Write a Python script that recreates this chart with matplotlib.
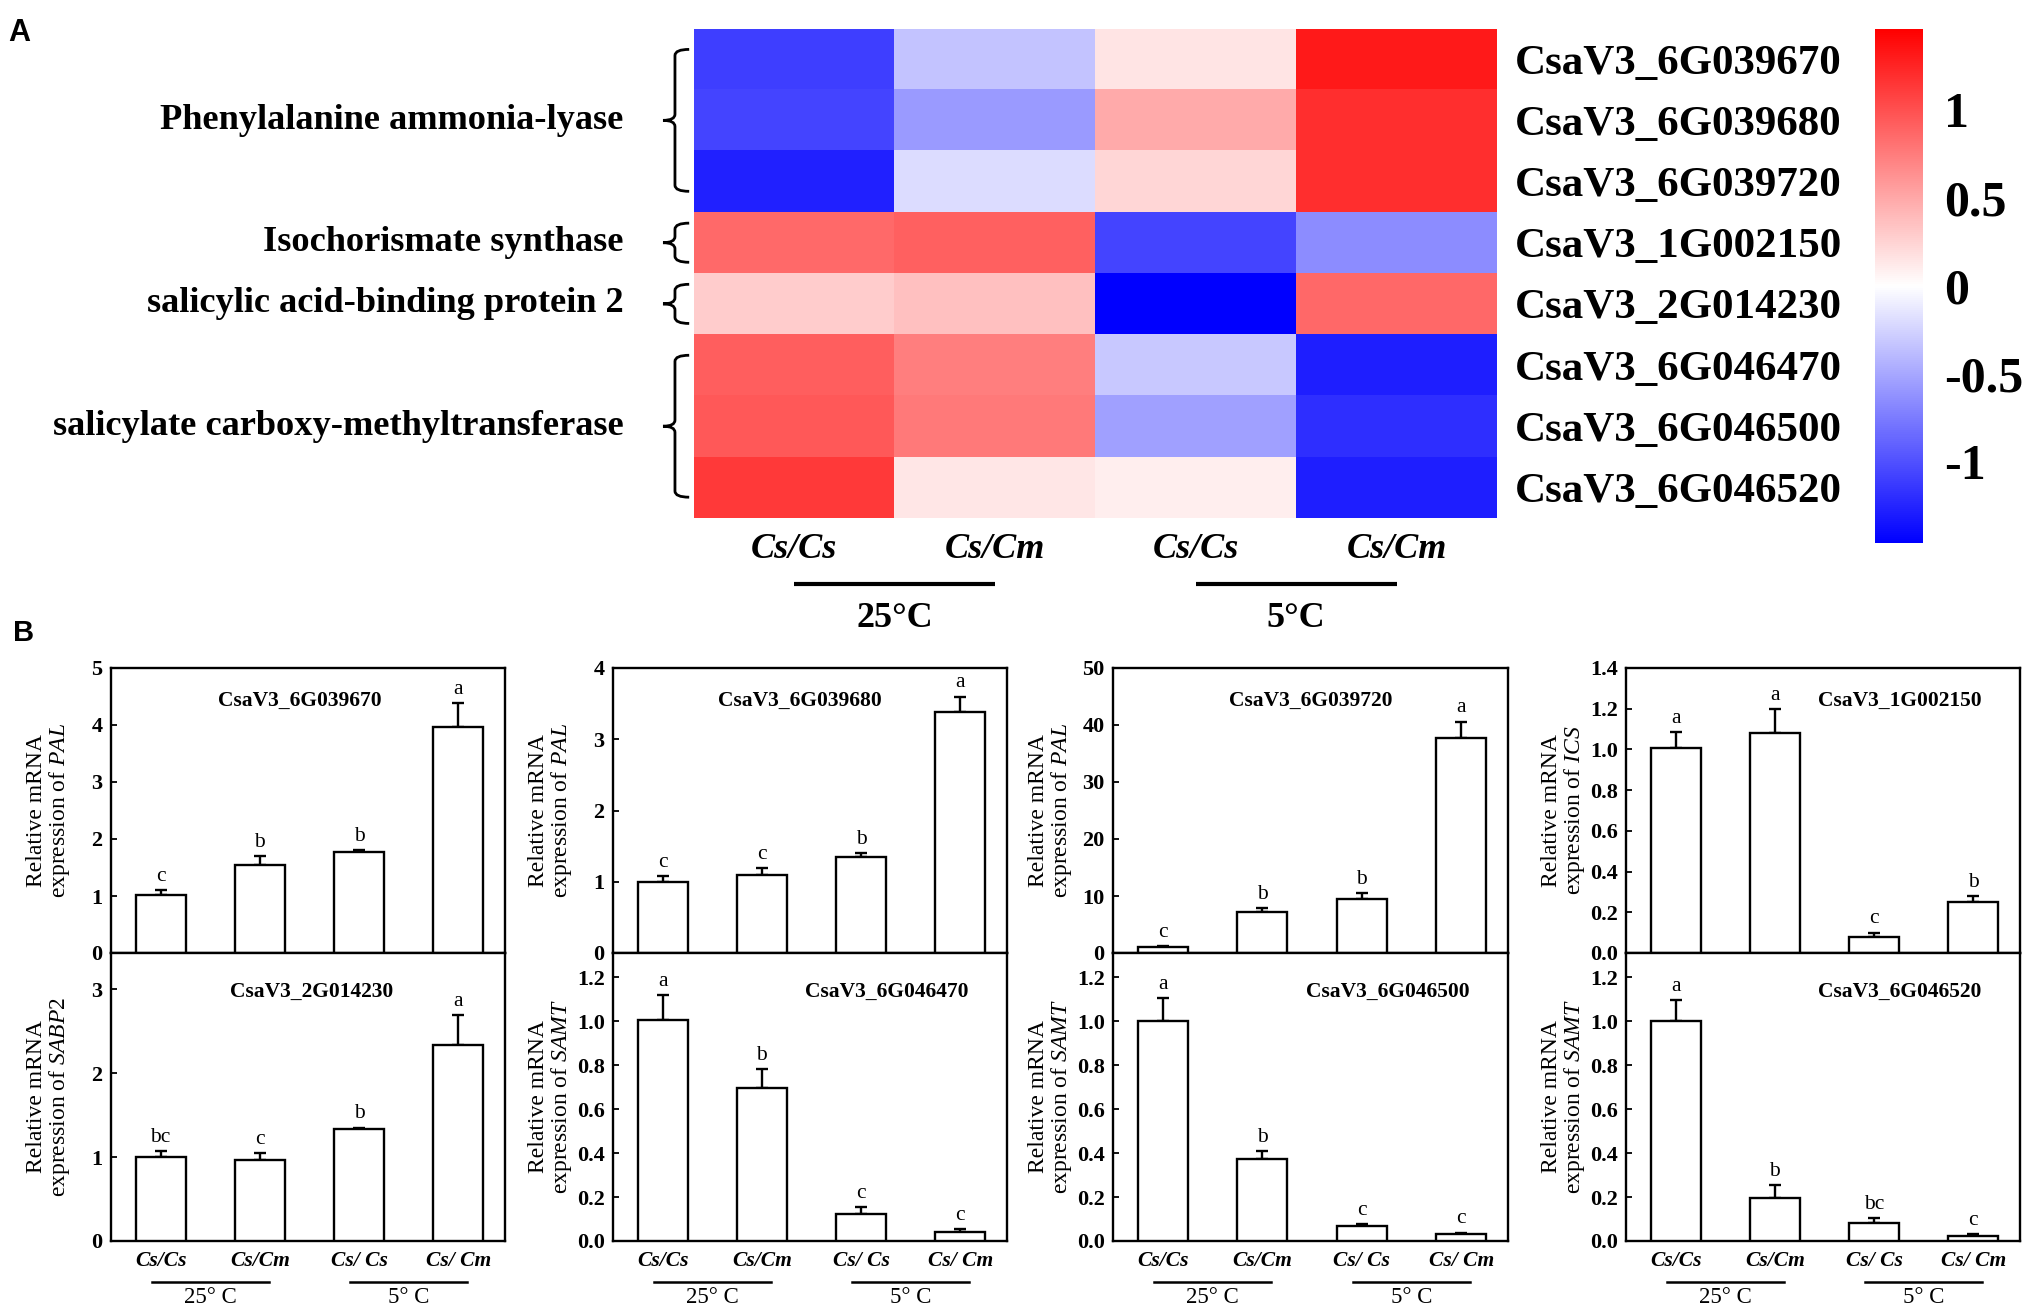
import numpy as np
import matplotlib
matplotlib.use("Agg")
import matplotlib.pyplot as plt
from matplotlib.path import Path
from matplotlib.patches import PathPatch
import matplotlib.transforms as mtransforms

plt.rcParams['font.family'] = ['Liberation Serif', 'DejaVu Serif']
plt.rcParams['mathtext.fontset'] = 'custom'
plt.rcParams['mathtext.rm'] = 'Liberation Serif'
plt.rcParams['mathtext.it'] = 'Liberation Serif:italic'
plt.rcParams['mathtext.bf'] = 'Liberation Serif:bold'

# ---------------- data ----------------
hm_genes = ["CsaV3_6G039670", "CsaV3_6G039680", "CsaV3_6G039720", "CsaV3_1G002150",
            "CsaV3_2G014230", "CsaV3_6G046470", "CsaV3_6G046500", "CsaV3_6G046520"]
hm_conditions = ["Cs/Cs", "Cs/Cm", "Cs/Cs", "Cs/Cm"]
hm_temps = ["25°C", "5°C"]
hm_values = [
    [-1.10, -0.34, 0.15, 1.31],
    [-1.07, -0.58, 0.49, 1.19],
    [-1.27, -0.20, 0.23, 1.19],
    [0.85, 0.91, -1.07, -0.66],
    [0.29, 0.36, -1.46, 0.86],
    [0.92, 0.73, -0.31, -1.28],
    [0.95, 0.76, -0.54, -1.19],
    [1.12, 0.14, 0.10, -1.28],
]
hm_groups = ["Phenylalanine ammonia-lyase", "Isochorismate synthase",
             "salicylic acid-binding protein 2", "salicylate carboxy-methyltransferase"]
hm_group_rows = [(0, 2), (3, 3), (4, 4), (5, 7)]
cbar_ticks = [1, 0.5, 0, -0.5, -1]
cbar_ticklabels = ["1", "0.5", "0", "-0.5", "-1"]

bar_categories = ["Cs/Cs", "Cs/Cm", "Cs/ Cs", "Cs/ Cm"]
bar_temps = ["25° C", "5° C"]
panel_genes = ["CsaV3_6G039670", "CsaV3_6G039680", "CsaV3_6G039720", "CsaV3_1G002150",
               "CsaV3_2G014230", "CsaV3_6G046470", "CsaV3_6G046500", "CsaV3_6G046520"]
panel_targets = ["PAL", "PAL", "PAL", "ICS", "SABP2", "SAMT", "SAMT", "SAMT"]
means_1 = [1.01, 1.54, 1.78, 3.97]
se_1 = [0.09, 0.16, 0.03, 0.41]
letters_1 = ["c", "b", "b", "a"]
means_2 = [1.00, 1.09, 1.35, 3.38]
se_2 = [0.075, 0.10, 0.05, 0.22]
letters_2 = ["c", "c", "b", "a"]
means_3 = [1.0, 7.28, 9.5, 37.7]
se_3 = [0.15, 0.6, 0.95, 2.9]
letters_3 = ["c", "b", "b", "a"]
means_4 = [1.005, 1.08, 0.079, 0.25]
se_4 = [0.079, 0.12, 0.021, 0.03]
letters_4 = ["a", "a", "c", "b"]
means_5 = [1.0, 0.96, 1.33, 2.34]
se_5 = [0.07, 0.09, 0.02, 0.35]
letters_5 = ["bc", "c", "b", "a"]
means_6 = [1.003, 0.695, 0.123, 0.04]
se_6 = [0.114, 0.088, 0.03, 0.016]
letters_6 = ["a", "b", "c", "c"]
means_7 = [1.0, 0.372, 0.068, 0.03]
se_7 = [0.106, 0.038, 0.008, 0.008]
letters_7 = ["a", "b", "c", "c"]
means_8 = [1.0, 0.197, 0.083, 0.023]
se_8 = [0.097, 0.059, 0.02, 0.009]
letters_8 = ["a", "b", "bc", "c"]
ylims = [5, 4, 50, 1.4, 3.43, 1.31, 1.31, 1.31]
ytick_steps = [1, 1, 10, 0.2, 1, 0.2, 0.2, 0.2]
ytick_max = [5, 4, 50, 1.4, 3, 1.2, 1.2, 1.2]
ytick_fmt = ["{:.0f}", "{:.0f}", "{:.0f}", "{:.1f}", "{:.0f}", "{:.1f}", "{:.1f}", "{:.1f}"]

all_means = [means_1, means_2, means_3, means_4, means_5, means_6, means_7, means_8]
all_se = [se_1, se_2, se_3, se_4, se_5, se_6, se_7, se_8]
all_letters = [letters_1, letters_2, letters_3, letters_4, letters_5, letters_6, letters_7, letters_8]

# ---------------- figure ----------------
W, H = 2029, 1312
fig = plt.figure(figsize=(W / 100, H / 100), dpi=100)


def add_ax(l, t, r, b):
    return fig.add_axes([l / W, 1 - b / H, (r - l) / W, (b - t) / H])


# ---------- Panel A: heatmap ----------
vlim = 1.46
axh = add_ax(694, 28.6, 1497, 518)
data = np.array(hm_values)
im = axh.imshow(data, cmap="bwr", vmin=-vlim, vmax=vlim, aspect="auto",
                interpolation="nearest")
axh.set_xticks([])
axh.yaxis.tick_right()
axh.set_yticks(range(len(hm_genes)))
axh.set_yticklabels(hm_genes, fontsize=31, fontweight="bold")
axh.tick_params(axis="y", length=0, pad=13)
for s in axh.spines.values():
    s.set_visible(False)

blend = mtransforms.blended_transform_factory(axh.transData, axh.transAxes)
for j, cond in enumerate(hm_conditions):
    axh.text(j, -0.065, cond, transform=blend, ha="center", va="center",
             fontsize=26, fontweight="bold", fontstyle="italic")
for g, temp in enumerate(hm_temps):
    x0, x1 = 2 * g, 2 * g + 1
    axh.plot([x0, x1], [-0.135, -0.135], transform=blend, color="black",
             lw=3, clip_on=False, solid_capstyle="butt")
    axh.text((x0 + x1) / 2, -0.205, temp, transform=blend, ha="center", va="center",
             fontsize=26, fontweight="bold")

# braces and group labels
blend_y = mtransforms.blended_transform_factory(axh.transAxes, axh.transData)
xl, xr, xp = -0.0237, -0.006, -0.0386
for name, (r0, r1) in zip(hm_groups, hm_group_rows):
    n = r1 - r0 + 1
    ym = (r0 + r1) / 2
    half = 0.42 * n - 0.1
    y0, y1 = ym - half, ym + half
    c = 0.1
    verts = [(xr, y0), (xl, y0), (xl, y0 + c),
             (xl, ym - c),
             (xl, ym), (xp, ym),
             (xl, ym), (xl, ym + c),
             (xl, y1 - c),
             (xl, y1), (xr, y1)]
    codes = [Path.MOVETO, Path.CURVE3, Path.CURVE3, Path.LINETO,
             Path.CURVE3, Path.CURVE3, Path.CURVE3, Path.CURVE3,
             Path.LINETO, Path.CURVE3, Path.CURVE3]
    patch = PathPatch(Path(verts, codes), transform=blend_y, fill=False,
                      lw=2, edgecolor="black", clip_on=False)
    axh.add_patch(patch)
    axh.text(-0.088, ym, name, transform=blend_y, ha="right", va="center",
             fontsize=26.2, fontweight="bold")

# colorbar
cax = add_ax(1875, 28.6, 1923, 543)
cb = fig.colorbar(im, cax=cax)
cb.set_ticks(cbar_ticks)
cb.set_ticklabels(cbar_ticklabels)
cb.outline.set_visible(False)
cax.tick_params(length=0, pad=15)
for lab in cax.get_yticklabels():
    lab.set_fontsize(36)
    lab.set_fontweight("bold")

fig.text(8 / W, 1 - 33 / H, "A", ha="left", va="center", fontsize=22,
         fontweight="bold", family="Liberation Sans")
fig.text(13 / W, 1 - 633 / H, "B", ha="left", va="center", fontsize=21,
         fontweight="bold", family="Liberation Sans")

# ---------- Panel B: bar charts ----------
cols_x = [(111, 505), (613, 1007), (1113, 1508), (1626, 2020)]
rows_y = [(668, 953), (953, 1241)]
title_pos = [(0.48, 0.884), (0.475, 0.884), (0.5, 0.884), (0.695, 0.884),
             (0.51, 0.865), (0.695, 0.865), (0.695, 0.865), (0.695, 0.865)]

x = np.arange(len(bar_categories))
bw = 0.505
for k in range(8):
    r, cidx = divmod(k, 4)
    l, rr = cols_x[cidx]
    t, b = rows_y[r]
    ax = add_ax(l, t, rr, b)
    m = np.array(all_means[k])
    e = np.array(all_se[k])
    ax.bar(x, m, width=bw, color="white", edgecolor="black", linewidth=1.7, zorder=3)
    ax.errorbar(x, m, yerr=[np.zeros_like(e), e], fmt="none", ecolor="black",
                elinewidth=1.7, capsize=4.5, capthick=1.7, zorder=2)
    for xi, mi, ei, let in zip(x, m, e, all_letters[k]):
        ax.annotate(let, (xi, mi + ei), xytext=(0, 3), textcoords="offset points",
                    ha="center", va="bottom", fontsize=15.5)
    ax.set_xlim(-0.5, 3.47)
    ax.set_ylim(0, ylims[k])
    yt = np.arange(0, ytick_max[k] + ytick_steps[k] / 2, ytick_steps[k])
    ax.set_yticks(yt)
    ax.set_yticklabels([ytick_fmt[k].format(v) for v in yt], fontsize=16,
                       fontweight="bold")
    ax.tick_params(axis="y", direction="in", length=4, width=1.3, pad=6)
    for s in ax.spines.values():
        s.set_linewidth(1.7)
    ax.text(*title_pos[k], panel_genes[k], transform=ax.transAxes, ha="center",
            va="center", fontsize=15.5, fontweight="bold")
    ax.set_ylabel("Relative mRNA\nexpression of $\\mathit{" + panel_targets[k] + "}$",
                  fontsize=17, linespacing=1.0)
    ax.yaxis.set_label_coords(-0.10, 0.5)
    if r == 0:
        ax.set_xticks(np.concatenate([x - bw / 2, x + bw / 2]))
        ax.set_xticklabels([])
        ax.tick_params(axis="x", direction="in", length=4, width=1.3)
    else:
        ax.set_xticks(x)
        ax.set_xticklabels(bar_categories, fontsize=15.5, fontweight="bold",
                           fontstyle="italic")
        ax.tick_params(axis="x", length=0, pad=7)
        tb = mtransforms.blended_transform_factory(ax.transData, ax.transAxes)
        for g, temp in enumerate(bar_temps):
            x0, x1 = 2 * g, 2 * g + 1
            ax.plot([x0 - 0.09, x1 + 0.09], [-0.142, -0.142], transform=tb,
                    color="black", lw=1.8, clip_on=False)
            ax.text((x0 + x1) / 2, -0.195, temp, transform=tb, ha="center",
                    va="center", fontsize=16.5)

fig.savefig("out.png", dpi=100)
